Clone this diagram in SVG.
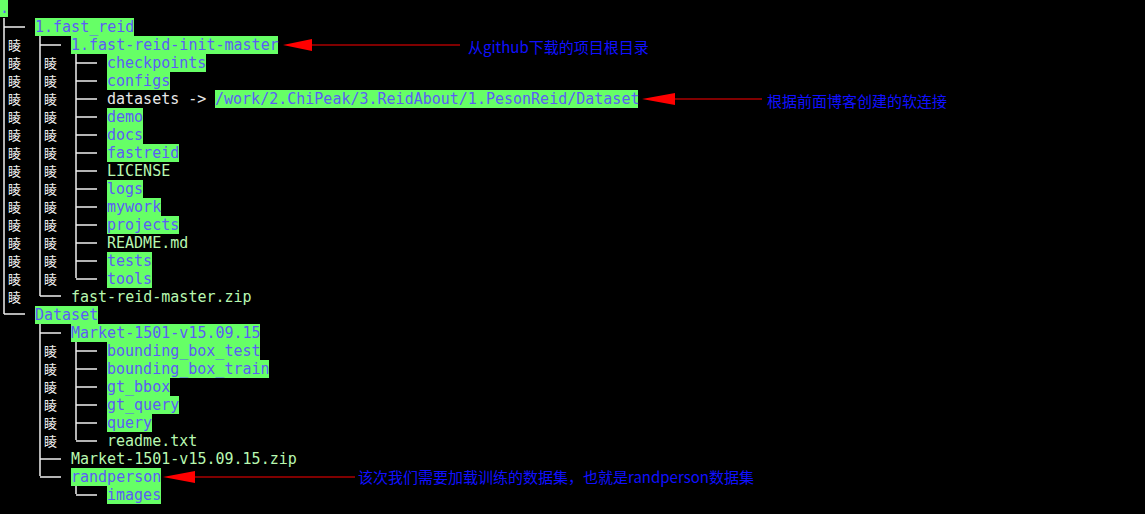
<svg xmlns="http://www.w3.org/2000/svg" width="1145" height="514" viewBox="0 0 1145 514">
<style>
text{font-family:"DejaVu Sans Mono","Liberation Mono",monospace;font-size:15px;white-space:pre}
.h{fill:#5c5cf5}.p{fill:#b8f8b0}.w{fill:#e8e8e8}
.g{fill:#66ff66}
.t{stroke:#f0f0f0;stroke-width:1.5;fill:none}
.v{font-family:"Noto Sans CJK SC",sans-serif;font-size:13px;fill:#f0f0f0}
.a{font-family:"Noto Sans CJK SC",sans-serif;font-size:15px;fill:#1010ff}
.r{stroke:#ff0000;stroke-width:1.2}
</style>
<rect width="1145" height="514" fill="#000"/>
<g id="tree">
<rect class="g" x="0" y="0" width="8" height="17"/>
<text x="0" y="13" class="h">.</text>
<rect class="g" x="35" y="18" width="99" height="18"/>
<rect class="g" x="71" y="36" width="207" height="18"/>
<rect class="g" x="107" y="54" width="99" height="18"/>
<rect class="g" x="107" y="72" width="63" height="18"/>
<rect class="g" x="215" y="90" width="423" height="18"/>
<rect class="g" x="107" y="108" width="36" height="18"/>
<rect class="g" x="107" y="126" width="36" height="18"/>
<rect class="g" x="107" y="144" width="72" height="18"/>
<rect class="g" x="107" y="180" width="36" height="18"/>
<rect class="g" x="107" y="198" width="54" height="18"/>
<rect class="g" x="107" y="216" width="72" height="18"/>
<rect class="g" x="107" y="252" width="45" height="18"/>
<rect class="g" x="107" y="270" width="45" height="18"/>
<rect class="g" x="35" y="306" width="63" height="18"/>
<rect class="g" x="71" y="324" width="189" height="18"/>
<rect class="g" x="107" y="342" width="153" height="18"/>
<rect class="g" x="107" y="360" width="162" height="18"/>
<rect class="g" x="107" y="378" width="63" height="18"/>
<rect class="g" x="107" y="396" width="72" height="18"/>
<rect class="g" x="107" y="414" width="45" height="18"/>
<rect class="g" x="71" y="468" width="90" height="18"/>
<rect class="g" x="107" y="486" width="54" height="18"/>
<path class="t" d="M4,18V314M4,27H25M4,314H25"/>
<path class="t" d="M40,36V296M40,45H61M40,296H61"/>
<path class="t" d="M76,54V278M76,63H97M76,81H97M76,99H97M76,117H97M76,135H97M76,153H97M76,171H97M76,189H97M76,207H97M76,225H97M76,243H97M76,261H97M76,279H97"/>
<path class="t" d="M40,324V476M40,333H61M40,459H61M40,477H61"/>
<path class="t" d="M76,342V440M76,351H97M76,369H97M76,387H97M76,405H97M76,423H97M76,441H97"/>
<path class="t" d="M76,486V494M76,495H97"/>
<g>
<text class="v" x="8" y="50">睖</text>
<text class="v" x="8" y="68">睖</text><text class="v" x="44" y="68">睖</text>
<text class="v" x="8" y="86">睖</text><text class="v" x="44" y="86">睖</text>
<text class="v" x="8" y="104">睖</text><text class="v" x="44" y="104">睖</text>
<text class="v" x="8" y="122">睖</text><text class="v" x="44" y="122">睖</text>
<text class="v" x="8" y="140">睖</text><text class="v" x="44" y="140">睖</text>
<text class="v" x="8" y="158">睖</text><text class="v" x="44" y="158">睖</text>
<text class="v" x="8" y="176">睖</text><text class="v" x="44" y="176">睖</text>
<text class="v" x="8" y="194">睖</text><text class="v" x="44" y="194">睖</text>
<text class="v" x="8" y="212">睖</text><text class="v" x="44" y="212">睖</text>
<text class="v" x="8" y="230">睖</text><text class="v" x="44" y="230">睖</text>
<text class="v" x="8" y="248">睖</text><text class="v" x="44" y="248">睖</text>
<text class="v" x="8" y="266">睖</text><text class="v" x="44" y="266">睖</text>
<text class="v" x="8" y="284">睖</text><text class="v" x="44" y="284">睖</text>
<text class="v" x="8" y="302">睖</text>
<text class="v" x="44" y="356">睖</text><text class="v" x="44" y="374">睖</text><text class="v" x="44" y="392">睖</text>
<text class="v" x="44" y="410">睖</text><text class="v" x="44" y="428">睖</text><text class="v" x="44" y="446">睖</text>
</g>
<text x="35" y="32" class="h">1.fast_reid</text>
<text x="71" y="50" class="h">1.fast-reid-init-master</text>
<text x="107" y="68" class="h">checkpoints</text>
<text x="107" y="86" class="h">configs</text>
<text x="107" y="104" class="w">datasets -&gt; </text>
<text x="215" y="104" class="h">/work/2.ChiPeak/3.ReidAbout/1.PesonReid/Dataset</text>
<text x="107" y="122" class="h">demo</text>
<text x="107" y="140" class="h">docs</text>
<text x="107" y="158" class="h">fastreid</text>
<text x="107" y="176" class="p">LICENSE</text>
<text x="107" y="194" class="h">logs</text>
<text x="107" y="212" class="h">mywork</text>
<text x="107" y="230" class="h">projects</text>
<text x="107" y="248" class="p">README.md</text>
<text x="107" y="266" class="h">tests</text>
<text x="107" y="284" class="h">tools</text>
<text x="71" y="302" class="p">fast-reid-master.zip</text>
<text x="35" y="320" class="h">Dataset</text>
<text x="71" y="338" class="h">Market-1501-v15.09.15</text>
<text x="107" y="356" class="h">bounding_box_test</text>
<text x="107" y="374" class="h">bounding_box_train</text>
<text x="107" y="392" class="h">gt_bbox</text>
<text x="107" y="410" class="h">gt_query</text>
<text x="107" y="428" class="h">query</text>
<text x="107" y="446" class="p">readme.txt</text>
<text x="71" y="464" class="p">Market-1501-v15.09.15.zip</text>
<text x="71" y="482" class="h">randperson</text>
<text x="107" y="500" class="h">images</text>
</g>
<g id="connectors">
<line class="r" x1="310" y1="45" x2="460" y2="45"/>
<polygon fill="#f00" points="283,45 312,39 312,51"/>
<line class="r" x1="674" y1="99" x2="762" y2="99"/>
<polygon fill="#f00" points="642,99 675,93 675,105"/>
<line class="r" x1="195" y1="477" x2="355" y2="477"/>
<polygon fill="#f00" points="163,477 195,471 195,483"/>
</g>
<g id="labels">
<text class="a" x="468" y="53">从github下载的项目根目录</text>
<text class="a" x="767" y="107">根据前面博客创建的软连接</text>
<text class="a" x="358" y="483">该次我们需要加载训练的数据集，也就是randperson数据集</text>
</g>
</svg>
